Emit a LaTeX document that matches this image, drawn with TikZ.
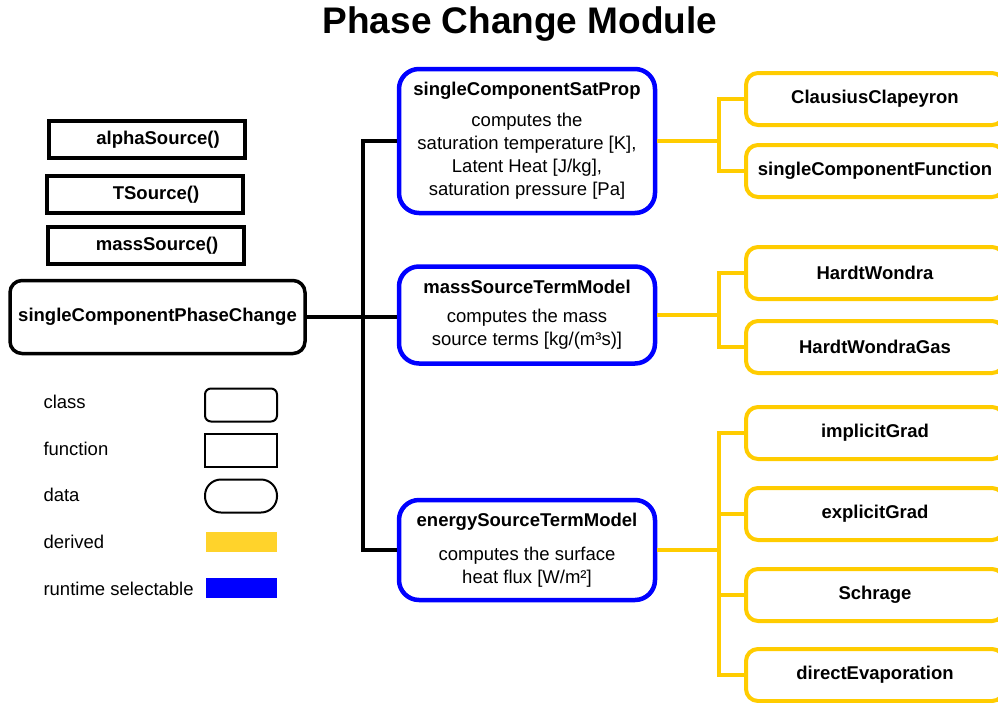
\documentclass[tikz,border=0pt]{standalone}
\usepackage{fontspec}
\setmainfont{Liberation Sans}
\usetikzlibrary{positioning,calc}
\definecolor{rtblue}{RGB}{0,0,255}
\definecolor{drvyellow}{RGB}{255,204,0}
\definecolor{legyellow}{RGB}{255,211,43}
\newcommand{\txt}{\fontsize{18.5}{23}\selectfont}
\tikzset{
  fnbox/.style={rectangle, draw=black, line width=3.5pt, minimum width=196pt,
                minimum height=37pt, font=\txt\bfseries,
                execute at begin node=\hspace*{22pt}},
  clsbox/.style={rectangle, rounded corners=12pt, draw=black, line width=3.5pt,
                 minimum width=295pt, minimum height=73pt, font=\txt\bfseries},
  rtbox/.style={rectangle, rounded corners=20pt, draw=rtblue, line width=4.5pt,
                minimum width=256pt, align=center, font=\txt},
  drvbox/.style={rectangle, rounded corners=12pt, draw=drvyellow, line width=4pt,
                 minimum width=258pt, minimum height=52pt, font=\txt\bfseries},
  blk/.style={line width=4pt, draw=black},
  drv/.style={line width=4pt, draw=drvyellow},
  leg/.style={anchor=west, font=\txt},
  legshape/.style={minimum width=72pt, minimum height=33pt, draw=black, line width=2pt},
}

\begin{document}
\begin{tikzpicture}[x=1pt,y=-1pt]
\useasboundingbox (0,0) rectangle (998,702);
\clip (0,0) rectangle (998,702);

% ================= heading =================
\node[font=\fontsize{37}{44}\selectfont\bfseries] (title) at (520,24) {Phase Change Module};

% ================= functions and class =================
\node[fnbox] (alpha) at (147,139.5) {alphaSource()};
\node[fnbox] (tsrc)  at (145,194.5) {TSource()};
\node[fnbox] (msrc)  at (146,245.5) {massSource()};
\node[clsbox] (pc) at (157.5,317) {singleComponentPhaseChange};

% ================= runtime selectable models =================
\node[rtbox, minimum height=144pt] (sat) at (527,141)
  {\textbf{singleComponentSatProp}\\[8pt]computes the\\saturation temperature [K],\\Latent Heat [J/kg],\\saturation pressure [Pa]};
\node[rtbox, minimum height=97pt] (mass) at (527,315)
  {\textbf{massSourceTermModel}\\[6pt]computes the mass\\source terms [kg/(m³s)]};
\node[rtbox, minimum height=100pt] (energy) at (527,550)
  {\textbf{energySourceTermModel}\\[11pt]computes the surface\\heat flux [W/m²]};

% ================= derived models =================
\node[drvbox] (cc)  at (875,99)  {ClausiusClapeyron};
\node[drvbox] (scf) at (875,171) {singleComponentFunction};
\node[drvbox] (hw)  at (875,273) {HardtWondra};
\node[drvbox] (hwg) at (875,347) {HardtWondraGas};
\node[drvbox] (ig)  at (875,433) {implicitGrad};
\node[drvbox] (eg)  at (875,514) {explicitGrad};
\node[drvbox] (sch) at (875,595) {Schrage};
\node[drvbox] (de)  at (875,675) {directEvaporation};

% ================= connectors =================
\coordinate (bus) at (363,317);
\coordinate (ybus) at (719,0);
\draw[blk] (pc.east) -- (pc.east -| mass.west);
\draw[blk] (sat.west) -| (bus) |- (energy.west);

\draw[drv] (sat.east) -- (sat.east -| ybus);
\draw[drv] (cc.west) -| (ybus |- scf.west) -- (scf.west);
\draw[drv] (mass.east) -- (mass.east -| ybus);
\draw[drv] (hw.west) -| (ybus |- hwg.west) -- (hwg.west);
\draw[drv] (energy.east) -- (energy.east -| ybus);
\draw[drv] (ig.west) -| (ybus |- de.west) -- (de.west);
\draw[drv] (eg.west) -- (eg.west -| ybus);
\draw[drv] (sch.west) -- (sch.west -| ybus);

% ================= legend =================
\node[leg] (lcls) at (40,402) {class};
\node[leg] (lfn)  at (40,449) {function};
\node[leg] (ldat) at (40,495) {data};
\node[leg] (ldrv) at (40,542) {derived};
\node[leg] (lrt)  at (40,589) {runtime selectable};
\node[legshape, rounded corners=6pt] (kcls) at (241,405) {};
\node[legshape] (kfn) at (241,450.5) {};
\node[legshape, rounded corners=16pt] (kdat) at (241,496) {};
\node[minimum width=71pt, minimum height=20pt, fill=legyellow] (kdrv) at (241.5,542) {};
\node[minimum width=71pt, minimum height=20pt, fill=rtblue] (krt) at (241.5,588) {};

\end{tikzpicture}
\end{document}
